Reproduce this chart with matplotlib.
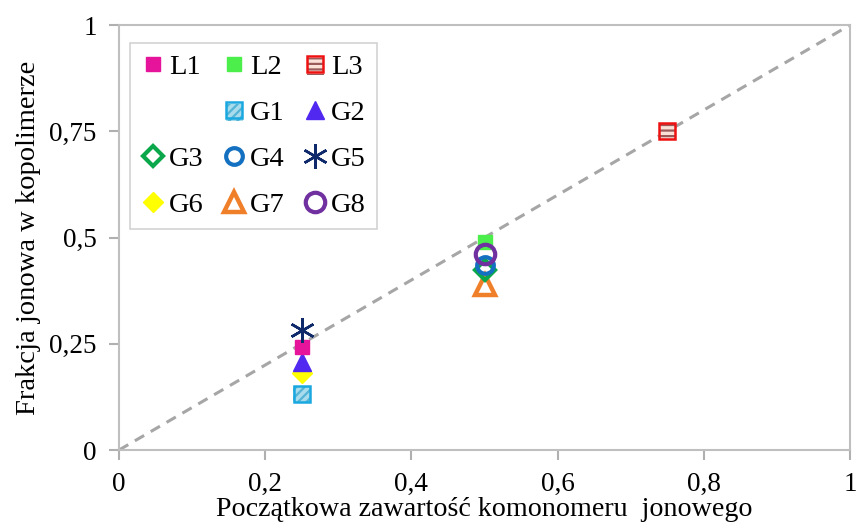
import matplotlib
matplotlib.use("Agg")
import matplotlib.pyplot as plt
from matplotlib.lines import Line2D
from matplotlib.legend_handler import HandlerTuple

plt.rcParams['font.family'] = ['Liberation Serif', 'DejaVu Serif']
plt.rcParams['hatch.linewidth'] = 1.6

# ====== DATA ======
labels = ["L1", "L2", "L3", "G1", "G2", "G3", "G4", "G5", "G6", "G7", "G8"]
x_vals = [0.25, 0.50, 0.75, 0.25, 0.25, 0.50, 0.50, 0.25, 0.25, 0.50, 0.50]
y_vals = [0.242, 0.489, 0.750, 0.132, 0.207, 0.424, 0.435, 0.282, 0.181, 0.388, 0.461]

x_ticks = [0, 0.2, 0.4, 0.6, 0.8, 1]
x_ticklabels = ["0", "0,2", "0,4", "0,6", "0,8", "1"]
y_ticks = [0, 0.25, 0.5, 0.75, 1]
y_ticklabels = ["0", "0,25", "0,5", "0,75", "1"]

styles = {
    "L1": dict(marker="s", ms=10, mfc="#e6139b", mec="#e6139b", mew=1),
    "L2": dict(marker="s", ms=10, mfc="#4cee4c", mec="#4cee4c", mew=1),
    "L3": dict(marker="s", ms=12, mfc="none", mec="#ee1111", mew=1.8),
    "G1": dict(marker="s", ms=12, mfc="none", mec="#1aa8e0", mew=1.8),
    "G2": dict(marker="^", ms=13, mfc="#5028f0", mec="#5028f0", mew=1),
    "G3": dict(marker="D", ms=10, mfc="none", mec="#0aa84a", mew=3),
    "G4": dict(marker="o", ms=12, mfc="none", mec="#1470c0", mew=3),
    "G5": dict(marker=(6, 2, 0), ms=18, mfc="none", mec="#0f2a6a", mew=1.8),
    "G6": dict(marker="D", ms=10, mfc="#ffff00", mec="#ffff00", mew=1),
    "G7": dict(marker="^", ms=15, mfc="none", mec="#f07f2a", mew=3.2),
    "G8": dict(marker="o", ms=14, mfc="none", mec="#7030a0", mew=3),
}
# hatched fills: face, hatch colour, hatch pattern
fills = {
    "L3": ("#fbe0d8", "#9a5a5a", "---"),
    "G1": ("#a8dcec", "#55b4d6", "////"),
}
z_order = ["G1", "G6", "G2", "L1", "G5", "L2", "G7", "G3", "G4", "G8", "L3"]


def main():
    fig = plt.figure(figsize=(8.58, 5.29), dpi=100)
    ax = fig.add_axes([0.1387, 0.1493, 0.852, 0.8034])

    ax.plot([0, 1], [0, 1], ls=(0, (3.5, 2.5)), color="#a6a6a6", lw=2.2, zorder=1)

    handles = {}
    for i, name in enumerate(labels):
        st = styles[name]
        z = 3 + z_order.index(name)
        h, = ax.plot([x_vals[i]], [y_vals[i]], ls="none", zorder=z, label=name, **st)
        if name in fills:
            face, hc, hatch = fills[name]
            s = ax.scatter([x_vals[i]], [y_vals[i]], marker="s", s=st["ms"] ** 2,
                           facecolor=face, edgecolor=hc, hatch=hatch, linewidth=0,
                           zorder=z - 0.5)
            handles[name] = (s, h)
        else:
            handles[name] = h

    ax.set_xlim(0, 1)
    ax.set_ylim(0, 1)
    ax.set_xticks(x_ticks)
    ax.set_xticklabels(x_ticklabels)
    ax.set_yticks(y_ticks)
    ax.set_yticklabels(y_ticklabels)
    ax.tick_params(direction="out", length=7, width=1.5, color="#b0b0b0",
                   labelsize=19.5, pad=9)
    for sp in ax.spines.values():
        sp.set_color("#bfbfbf")
        sp.set_linewidth(1.5)

    ax.set_xlabel("Początkowa zawartość komonomeru  jonowego", fontsize=20.2, labelpad=0)
    ax.set_ylabel("Frakcja jonowa w kopolimerze", fontsize=20.5, labelpad=6)

    blank = Line2D([], [], ls="none", marker="none")
    order = ["L1", None, "G3", "G6", "L2", "G1", "G4", "G7", "L3", "G2", "G5", "G8"]
    hs = [handles[n] if n else blank for n in order]
    ls = [n if n else " " for n in order]
    leg = ax.legend(hs, ls, ncol=3, loc="upper left", bbox_to_anchor=(0.0, 0.985),
                    fontsize=20.5, frameon=True, fancybox=False, edgecolor="#c8c8c8",
                    handlelength=0.8, handletextpad=0.15, columnspacing=0.68,
                    labelspacing=0.7, borderpad=0.4, borderaxespad=0.4,
                    handler_map={tuple: HandlerTuple(ndivide=1, pad=0)})
    leg.get_frame().set_linewidth(1.2)

    fig.savefig("out.png", dpi=100)


if __name__ == "__main__":
    main()
